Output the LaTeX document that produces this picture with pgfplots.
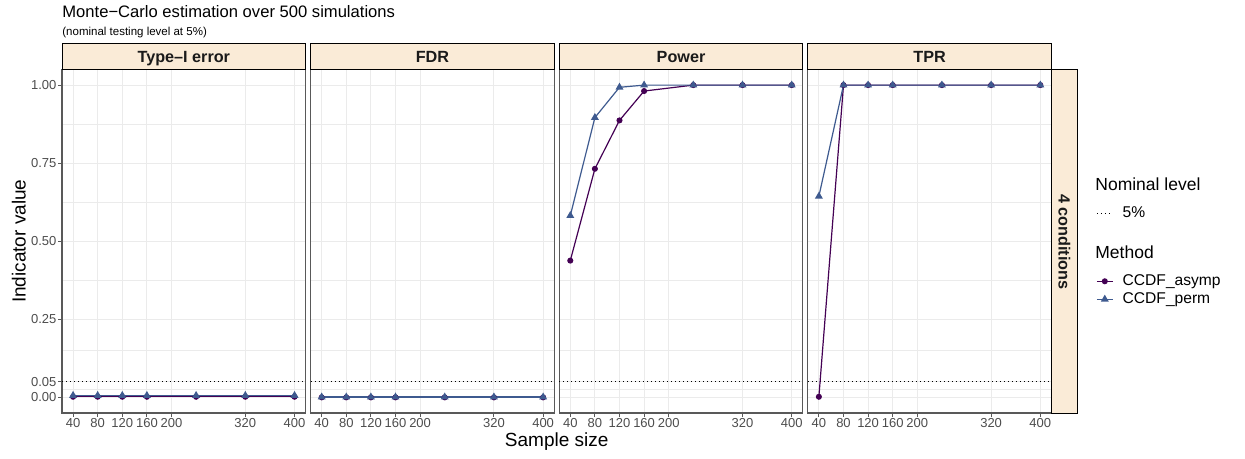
\documentclass[border=0pt]{standalone}
\usepackage{fontspec}
\setmainfont{Liberation Sans}
\usepackage{pgfplots}
\usepackage{pgfplotstable}
\pgfplotsset{compat=1.18}

\definecolor{casymp}{HTML}{440154}
\definecolor{cperm}{HTML}{3E5A8F}
\definecolor{grid92}{HTML}{EBEBEB}
\definecolor{stripfill}{HTML}{FAEBD7}
\definecolor{frame}{HTML}{595959}
\definecolor{ticktext}{HTML}{4D4D4D}
\definecolor{striptext}{HTML}{1A1A1A}

% one table per facet: sample size, CCDF_asymp, CCDF_perm
\pgfplotstableread{
n asymp perm
40 0.002 0.006
80 0.002 0.006
120 0.002 0.006
160 0.002 0.006
240 0.002 0.006
320 0.002 0.006
400 0.002 0.006
}\typeone
\pgfplotstableread{
n asymp perm
40 0.000 0.001
80 0.000 0.001
120 0.000 0.001
160 0.000 0.001
240 0.000 0.001
320 0.000 0.001
400 0.000 0.001
}\fdr
\pgfplotstableread{
n asymp perm
40 0.438 0.582
80 0.732 0.896
120 0.887 0.993
160 0.981 1.000
240 1.000 1.000
320 1.000 1.000
400 1.000 1.000
}\power
\pgfplotstableread{
n asymp perm
40 0.002 0.644
80 1.000 1.000
120 1.000 1.000
160 1.000 1.000
240 1.000 1.000
320 1.000 1.000
400 1.000 1.000
}\tpr

\pgfplotsset{
  panel/.style={
    scale only axis, width=121.8pt, height=171.75pt, anchor=south west,
    xmin=22, xmax=418, ymin=-0.05, ymax=1.05,
    xtick={40,80,120,160,200,320,400},
    xticklabels={40,80,120,160,200,320,400},
    ytick={0,0.05,0.25,0.5,0.75,1},
    minor ytick={0.025,0.15,0.375,0.625,0.875},
    grid=both,
    major grid style={color=grid92, line width=0.5pt},
    minor grid style={color=grid92, line width=0.3pt},
    axis line style={color=frame, line width=0.6pt},
    tick align=outside, xtick pos=lower, ytick pos=left,
    major tick length=2pt, minor tick length=0pt,
    tick style={color=frame, line width=0.5pt},
    ticklabel style={font=\fontsize{6.5}{7}\selectfont, text=ticktext, inner sep=0pt},
    xticklabel style={yshift=-0.4pt},
    yticklabel style={xshift=-0.6pt},
    legend style={draw=none, fill=none, inner sep=0pt, row sep=2pt,
      font=\fontsize{7.8}{9}\selectfont, cells={anchor=west},
      nodes={inner sep=0pt, text height=5.5pt, text depth=1.5pt}},
    legend image code/.code={
      \draw[mark repeat=2, mark phase=2] plot coordinates {(0pt,0pt) (3.9pt,0pt) (7.85pt,0pt)};
      \path[draw=none, fill=none] (7.85pt,0pt) -- (12.85pt,0pt);},
  },
  nominal/.style={black, line width=0.5pt, dash pattern=on 0.5pt off 1.5pt, no markers},
  asymp/.style={casymp, line width=0.6pt, mark=*, mark size=1.2pt, mark options={solid}},
  perm/.style={cperm, line width=0.6pt, mark=triangle*, mark size=1.7pt, mark options={solid}},
  inner/.style={yticklabels={}, ytick style={draw=none}},
}

\begin{document}
\begin{tikzpicture}
\useasboundingbox[fill=white] (0pt,0pt) rectangle (622.5pt,-229.5pt);

\begin{axis}[panel, at={(31pt,-206.5pt)},
  yticklabels={0.00,0.05,0.25,0.50,0.75,1.00}]
  \addplot[nominal] coordinates {(22,0.05) (418,0.05)};
  \addplot[asymp] table[x=n, y=asymp] {\typeone};
  \addplot[perm] table[x=n, y=perm] {\typeone};
\end{axis}

\begin{axis}[panel, inner, at={(155.3pt,-206.5pt)}]
  \addplot[nominal] coordinates {(22,0.05) (418,0.05)};
  \addplot[asymp] table[x=n, y=asymp] {\fdr};
  \addplot[perm] table[x=n, y=perm] {\fdr};
\end{axis}

\begin{axis}[panel, inner, at={(279.6pt,-206.5pt)},
  legend style={at={(2.2036,0.602)}, anchor=north west}]
  \addplot[nominal] coordinates {(22,0.05) (418,0.05)};
  \addplot[asymp] table[x=n, y=asymp] {\power};
  \addplot[perm] table[x=n, y=perm] {\power};
  \legend{5\%}
\end{axis}

\begin{axis}[panel, inner, at={(403.9pt,-206.5pt)},
  legend style={at={(1.183,0.405)}, anchor=north west}]
  \addplot[nominal, forget plot] coordinates {(22,0.05) (418,0.05)};
  \addplot[asymp] table[x=n, y=asymp] {\tpr};
  \addplot[perm] table[x=n, y=perm] {\tpr};
  \legend{CCDF\_asymp, CCDF\_perm}
\end{axis}

% facet strips
\foreach \xl/\lab in {31/Type\textendash I error, 155.3/FDR, 279.6/Power, 403.9/TPR} {
  \draw[fill=stripfill, draw=black, line width=0.5pt] (\xl pt,-22pt) rectangle ++(121.8pt,-12.75pt);
  \node[anchor=base, inner sep=0pt, text=striptext, font=\fontsize{8.1}{9}\selectfont\bfseries]
    at (\xl pt+60.9pt,-31.15pt) {\lab};
}
\draw[fill=stripfill, draw=black, line width=0.5pt] (525.7pt,-34.75pt) rectangle (538.65pt,-206.5pt);
\node[rotate=-90, inner sep=0pt, text=striptext, font=\fontsize{8.1}{9}\selectfont\bfseries]
  at (532.2pt,-120.9pt) {4 conditions};

% titles
\node[anchor=base west, inner sep=0pt, font=\fontsize{8.3}{10}\selectfont] at (31pt,-8.65pt)
  {Monte\textminus Carlo estimation over 500 simulations};
\node[anchor=base west, inner sep=0pt, font=\fontsize{5.75}{7}\selectfont] at (31pt,-17.85pt)
  {(nominal testing level at 5\%)};
\node[anchor=base, inner sep=0pt, font=\fontsize{9.5}{11}\selectfont] at (278.35pt,-223.35pt)
  {Sample size};
\node[rotate=90, anchor=center, inner sep=0pt, font=\fontsize{9.5}{11}\selectfont] at (9.4pt,-120.6pt)
  {Indicator value};

% legend titles
\node[anchor=base west, inner sep=0pt, font=\fontsize{8.75}{10}\selectfont] at (547.5pt,-95.35pt)
  {Nominal level};
\node[anchor=base west, inner sep=0pt, font=\fontsize{8.75}{10}\selectfont] at (547.5pt,-129.5pt)
  {Method};
\end{tikzpicture}
\end{document}
